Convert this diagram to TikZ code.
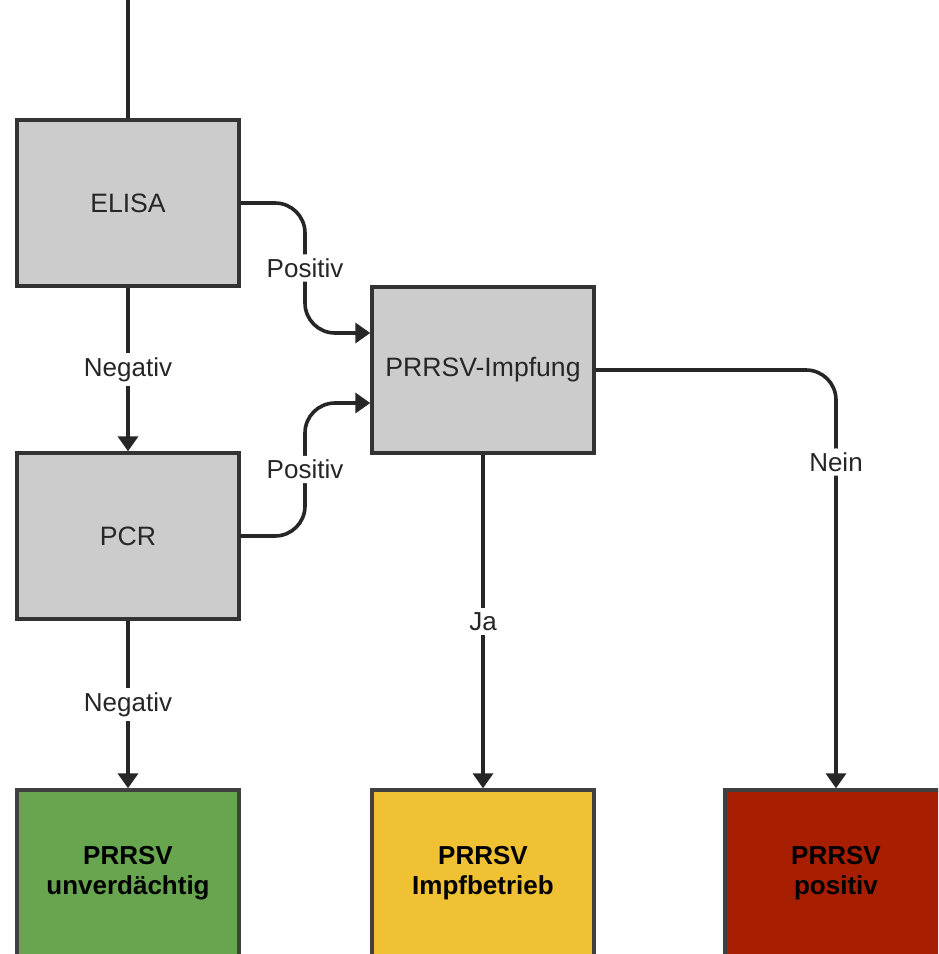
\documentclass[tikz,border=0pt]{standalone}
\usepackage{fontspec}
\setmainfont{Liberation Sans}
\usetikzlibrary{arrows.meta}

\definecolor{boxgray}{HTML}{CCCCCC}
\definecolor{edgegray}{HTML}{333333}
\definecolor{okgreen}{HTML}{67A54F}
\definecolor{vacyellow}{HTML}{F0C132}
\definecolor{posred}{HTML}{A81E00}

\tikzset{
    testbox/.style={draw=edgegray, line width=1.7pt, fill=boxgray, minimum width=111pt,
        minimum height=83pt, inner sep=0pt, text=black!85, font=\fontsize{13.3}{15}\selectfont},
    resultbox/.style={testbox, draw=black!75, align=center, text=black,
        font=\fontsize{13}{15}\selectfont\bfseries},
    lbl/.style={fill=white, inner sep=2pt, text=black!85, font=\fontsize{13}{15}\selectfont},
    flow/.style={draw=black!85, line width=1.8pt, -{Triangle[width=10pt,length=7.5pt]}},
}

\begin{document}
\begin{tikzpicture}[x=0.5pt, y=-0.5pt]
    \clip (0,0) rectangle (938,954);% page = reference frame
    \coordinate (Start)    at (128,0);
    \coordinate (LeftBend) at (305,0);
    \coordinate (NeinBend) at (836,0);
    % test boxes
    \node[testbox] (Elisa)   at (128,203) {ELISA};
    \node[testbox] (Pcr)     at (128,536) {PCR};
    \node[testbox] (Impfung) at (483,370) {PRRSV-Impfung};
    % result boxes, cut by the lower edge
    \node[resultbox, fill=okgreen]   (Unverd) at (128,873) {PRRSV\\unverdächtig};
    \node[resultbox, fill=vacyellow] (Impfbt) at (483,873) {PRRSV\\Impfbetrieb};
    \node[resultbox, fill=posred]    (Posit)  at (836,873) {PRRSV\\positiv};
    % connectors
    \draw[draw=black!85, line width=1.8pt] (Start) -- (Elisa.north);
    \draw[flow] (Elisa.south) -- node[lbl] {Negativ} (Pcr.north);
    \draw[flow] (Pcr.south) -- node[lbl] {Negativ} (Unverd.north);
    \draw[flow, rounded corners=15] (Elisa.east) -- (LeftBend |- Elisa.east)
        -- node[lbl] {Positiv} (LeftBend |- 0,333) -- (Impfung.west |- 0,333);
    \draw[flow, rounded corners=15] (Pcr.east) -- (LeftBend |- Pcr.east)
        -- node[lbl] {Positiv} (LeftBend |- 0,403) -- (Impfung.west |- 0,403);
    \draw[flow] (Impfung.south) -- node[lbl] {Ja} (Impfbt.north);
    \draw[flow, rounded corners=15] (Impfung.east) -- (NeinBend |- Impfung.east)
        -- node[lbl, pos=0.22] {Nein} (Posit.north);
\end{tikzpicture}
\end{document}
